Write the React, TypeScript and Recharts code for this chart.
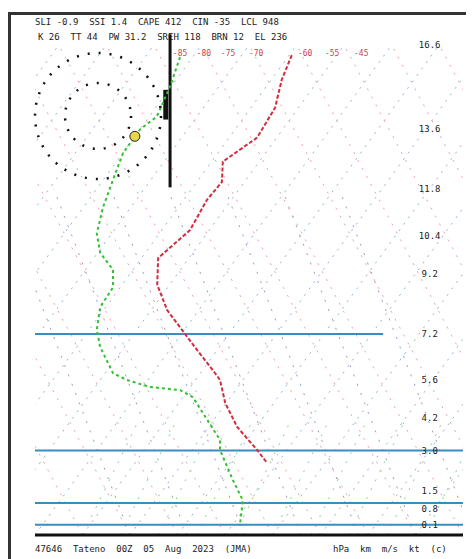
import React from 'react';
import { LineChart, Line, XAxis, YAxis, ReferenceLine, ReferenceDot } from 'recharts';

// Temperature profile (pressure hPa, skewed temperature position °C)
const tempP = [105, 118, 135, 156, 175, 193, 210, 243, 278, 316, 357, 426, 482, 499, 557, 625, 698, 743];
const tempX = [14.0, 11.9, 10.5, 6.7, -0.5, -0.7, -3.8, -7.4, -14.1, -14.3, -12.2, -6.4, -2.2, -1.1, 0.0, 2.5, 6.7, 8.8];

// Dew point profile
const dewP = [106, 122, 141, 150, 168, 191, 218, 247, 271, 294, 320, 352, 392, 426, 483, 499, 516, 524, 542, 604, 665, 698, 806, 889, 1000];
const dewX = [-9.5, -11.6, -14.4, -17.9, -21.5, -23.6, -25.7, -27.0, -26.3, -23.6, -23.6, -26.3, -27.0, -26.3, -23.6, -20.7, -15.8, -9.5, -6.8, -3.8, -1.1, -1.1, 1.6, 3.7, 3.1];

// Right-hand level labels (height, km)
const levelP = [100, 150, 200, 250, 300, 400, 500, 600, 700, 850, 925, 1000];
const levelLabels = ['16.6', '13.6', '11.8', '10.4', '9.2', '7.2', '5.6', '4.2', '3.0', '1.5', '0.8', '0.1'];
const LEVEL_LABEL_X = 43;

// Isotherm labels along the top
const isoLabelX = [-9.5, -4.5, 0.6, 6.5, 16.8, 22.5, 28.6];
const isoLabelText = ['-85', '-80', '-75', '-70', '-60', '-55', '-45'];
const ISO_LABEL_P = 104;

// Marked levels (blue lines)
const markedLevels = [400, 700, 900, 1000];
const markedEnds = [33.2, 50, 50, 50];

// Background guide lines (bottom positions)
const isothermBase = [-130, -120, -110, -100, -90, -80, -70, -60, -50, -40, -30, -20, -10, 0, 10, 20, 30, 40];
const adiabatBase = [-30, -20, -10, 0, 10, 20, 30, 40, 50, 60, 70, 80, 90, 100];
const mixingBase = [-30, -22, -14, -6, 2, 10, 18, 26, 34, 42];
const moistBase = [-20, -8, 4, 16, 28, 40, 52];

const SKEW = 75;
const ADIABAT_SHIFT = -55;
const MIX_SHIFT = 12;
const MOIST_SHIFT = -28;

const headerRow1 = 'SLI -0.9  SSI 1.4  CAPE 412  CIN -35  LCL 948';
const headerRow2 = 'K 26  TT 44  PW 31.2  SREH 118  BRN 12  EL 236';
const footerLeft = '47646  Tateno  00Z  05  Aug  2023  (JMA)';
const footerRight = 'hPa  km  m/s  kt  (c)';

const tempData = tempP.map((p, i) => ({ p, x: tempX[i] }));
const dewData = dewP.map((p, i) => ({ p, x: dewX[i] }));

const textStyle: React.CSSProperties = {
  position: 'absolute',
  fontFamily: '"DejaVu Sans Mono", monospace',
  fontSize: 9,
  color: '#222',
  whiteSpace: 'pre',
  lineHeight: '10px',
};

const makeLabel = (text: string, color: string, size: number, anchor: string) => (props: any) => (
  <text
    x={props.cx}
    y={props.cy}
    dy={3}
    textAnchor={anchor as any}
    fontSize={size}
    fill={color}
    fontFamily="DejaVu Sans Mono"
  >
    {text}
  </text>
);

export default function App() {
  return (
    <div style={{ position: 'relative', width: 466, height: 551, overflow: 'hidden', background: '#fff' }}>
      <div
        style={{
          position: 'absolute',
          left: 0,
          top: 4,
          width: 500,
          height: 600,
          borderLeft: '3px solid #333',
          borderTop: '3px solid #333',
        }}
      />
      <div style={{ ...textStyle, left: 27, top: 9 }}>{headerRow1}</div>
      <div style={{ ...textStyle, left: 30, top: 24 }}>{headerRow2}</div>
      <div style={{ ...textStyle, left: 27, top: 536 }}>{footerLeft}</div>
      <div style={{ ...textStyle, left: 325, top: 536 }}>{footerRight}</div>
      <div style={{ position: 'absolute', left: 0, top: 0 }}>
        <LineChart width={466} height={551} margin={{ top: 37, right: 11, bottom: 24, left: 27 }}>
          <XAxis type="number" dataKey="x" domain={[-40, 50]} allowDataOverflow hide />
          <YAxis type="number" dataKey="p" scale="log" domain={[100, 1050]} reversed allowDataOverflow hide />

          {isothermBase.map((t) => (
            <ReferenceLine
              key={'iso' + t}
              segment={[{ x: t, y: 1050 }, { x: t + SKEW, y: 100 }]}
              ifOverflow="hidden"
              stroke="#8fb4d4"
              strokeWidth={1}
              strokeDasharray="2 6"
            />
          ))}
          {adiabatBase.map((t) => (
            <ReferenceLine
              key={'ad' + t}
              segment={[{ x: t, y: 1050 }, { x: t + ADIABAT_SHIFT, y: 100 }]}
              ifOverflow="hidden"
              stroke="#eaa0ab"
              strokeWidth={1}
              strokeDasharray="2 7"
            />
          ))}
          {mixingBase.map((t) => (
            <ReferenceLine
              key={'mx' + t}
              segment={[{ x: t, y: 1050 }, { x: t + MIX_SHIFT, y: 600 }]}
              ifOverflow="hidden"
              stroke="#8ed08e"
              strokeWidth={1}
              strokeDasharray="2 8"
            />
          ))}
          {moistBase.map((t) => (
            <ReferenceLine
              key={'ms' + t}
              segment={[{ x: t, y: 1050 }, { x: t + MOIST_SHIFT, y: 200 }]}
              ifOverflow="hidden"
              stroke="#9a9ac4"
              strokeWidth={1}
              strokeDasharray="2 8"
            />
          ))}

          {markedLevels.map((p, i) => (
            <ReferenceLine
              key={'lv' + p}
              segment={[{ x: -40, y: p }, { x: markedEnds[i], y: p }]}
              ifOverflow="hidden"
              stroke="#3a8dbf"
              strokeWidth={2}
            />
          ))}
          <ReferenceLine y={1050} stroke="#111" strokeWidth={3} />

          <ReferenceDot x={-26.75} y={140.6} r={33} fill="none" stroke="#111" strokeWidth={2.5} strokeDasharray="2 9" />
          <ReferenceDot x={-26.75} y={140.6} r={63} fill="none" stroke="#111" strokeWidth={2.5} strokeDasharray="2 9" />

          <ReferenceLine
            segment={[{ x: -11.6, y: 95 }, { x: -11.6, y: 198 }]}
            ifOverflow="visible"
            stroke="#111"
            strokeWidth={3}
          />
          <ReferenceLine
            segment={[{ x: -12.5, y: 124 }, { x: -12.5, y: 143 }]}
            ifOverflow="visible"
            stroke="#111"
            strokeWidth={5}
          />

          {isoLabelX.map((x, i) => (
            <ReferenceDot
              key={'il' + i}
              x={x}
              y={ISO_LABEL_P}
              r={0}
              ifOverflow="visible"
              shape={makeLabel(isoLabelText[i], '#d0404c', 8, 'middle')}
            />
          ))}
          {levelP.map((p, i) => (
            <ReferenceDot
              key={'lvl' + i}
              x={LEVEL_LABEL_X}
              y={p}
              r={0}
              ifOverflow="visible"
              shape={makeLabel(levelLabels[i], '#222', 9, 'middle')}
            />
          ))}

          <Line
            data={dewData}
            dataKey="p"
            type="linear"
            stroke="#33c033"
            strokeWidth={2}
            strokeDasharray="3 3"
            dot={false}
            isAnimationActive={false}
          />
          <Line
            data={tempData}
            dataKey="p"
            type="linear"
            stroke="#d42c3c"
            strokeWidth={2}
            strokeDasharray="4 2"
            dot={false}
            isAnimationActive={false}
          />
          <ReferenceDot x={-19} y={155} r={5} fill="#e6d64a" stroke="#222" strokeWidth={1} />
        </LineChart>
      </div>
    </div>
  );
}
